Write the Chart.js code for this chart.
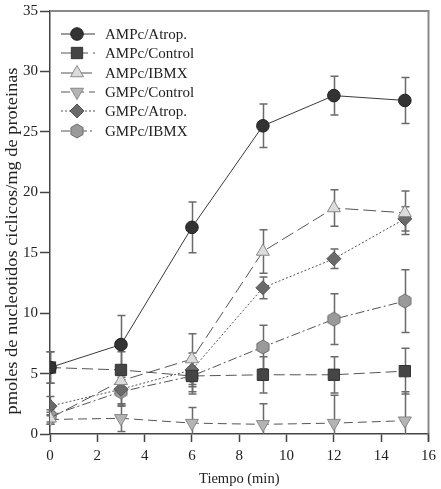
<!DOCTYPE html>
<html>
<head>
<meta charset="utf-8">
<script src="https://cdn.jsdelivr.net/npm/chart.js@4/dist/chart.umd.min.js"></script>
<style>
html,body{margin:0;padding:0;background:#fff;}
#wrap{width:441px;height:489px;position:relative;}
</style>
</head>
<body>
<div id="wrap"><canvas id="c" width="441" height="489"></canvas></div>
<script>
const times = [0, 3, 6, 9, 12, 15];
const xTicks = [0, 2, 4, 6, 8, 10, 12, 14, 16];
const yTicks = [0, 5, 10, 15, 20, 25, 30, 35];
const xTitle = 'Tiempo (min)';
const yTitle = 'pmoles de nucleotidos ciclicos/mg de proteinas';
const seriesNames = ['AMPc/Atrop.', 'AMPc/Control', 'AMPc/IBMX', 'GMPc/Control', 'GMPc/Atrop.', 'GMPc/IBMX'];
const ampcAtrop = [5.5, 7.4, 17.1, 25.5, 28.0, 27.6];
const ampcAtropErr = [1.3, 2.4, 2.1, 1.8, 1.6, 1.9];
const ampcControl = [5.5, 5.3, 4.8, 4.9, 4.9, 5.2];
const ampcControlErr = [1.3, 1.5, 1.5, 1.5, 1.5, 1.9];
const ampcIbmx = [1.3, 4.4, 6.2, 15.1, 18.7, 18.3];
const ampcIbmxErr = [0.5, 1.0, 2.1, 1.8, 1.5, 1.8];
const gmpcControl = [1.2, 1.3, 0.9, 0.8, 0.9, 1.1];
const gmpcControlErr = [0.4, 1.1, 1.3, 1.7, 2.3, 2.4];
const gmpcAtrop = [2.3, 3.7, 5.3, 12.1, 14.5, 17.8];
const gmpcAtropErr = [0.8, 1.2, 1.4, 0.9, 0.8, 1.0];
const gmpcIbmx = [1.5, 3.5, 4.8, 7.2, 9.5, 11.0];
const gmpcIbmxErr = [0.5, 1.2, 1.3, 1.8, 2.1, 2.6];

const SERIF = '"Liberation Serif", "Times New Roman", serif';

function hexagon(r, fill, stroke) {
  const c = document.createElement('canvas');
  const s = Math.ceil(r * 2 + 2);
  c.width = s; c.height = s;
  const g = c.getContext('2d');
  g.beginPath();
  for (let i = 0; i < 6; i++) {
    const a = Math.PI / 6 + i * Math.PI / 3;
    const px = s / 2 + r * Math.cos(a), py = s / 2 + r * Math.sin(a);
    if (i === 0) g.moveTo(px, py); else g.lineTo(px, py);
  }
  g.closePath();
  g.fillStyle = fill; g.fill();
  g.strokeStyle = stroke; g.lineWidth = 1; g.stroke();
  return c;
}
const hex = hexagon(7, '#9a9a9a', '#6e6e6e');

function pts(vals) { return times.map((t, i) => ({x: t, y: vals[i]})); }

const datasets = [
  {label: seriesNames[0], data: pts(ampcAtrop), err: ampcAtropErr, borderColor: '#3a3a3a', borderDash: [],
   pointStyle: 'circle', pointRadius: 6.3, pointBackgroundColor: '#333', pointBorderColor: '#222'},
  {label: seriesNames[1], data: pts(ampcControl), err: ampcControlErr, borderColor: '#555', borderDash: [11, 5],
   pointStyle: 'rect', pointRadius: 8, pointBackgroundColor: '#454545', pointBorderColor: '#333'},
  {label: seriesNames[2], data: pts(ampcIbmx), err: ampcIbmxErr, borderColor: '#555', borderDash: [13, 5],
   pointStyle: 'triangle', pointRadius: 7.5, pointBackgroundColor: '#dcdcdc', pointBorderColor: '#888'},
  {label: seriesNames[3], data: pts(gmpcControl), err: gmpcControlErr, borderColor: '#555', borderDash: [9, 5],
   pointStyle: 'triangle', pointRotation: 180, pointRadius: 7.5, pointBackgroundColor: '#b4b4b4', pointBorderColor: '#888'},
  {label: seriesNames[4], data: pts(gmpcAtrop), err: gmpcAtropErr, borderColor: '#555', borderDash: [2, 2],
   pointStyle: 'rectRot', pointRadius: 7, pointBackgroundColor: '#6a6a6a', pointBorderColor: '#555'},
  {label: seriesNames[5], data: pts(gmpcIbmx), err: gmpcIbmxErr, borderColor: '#555', borderDash: [9, 3, 2, 3],
   pointStyle: hex, pointRadius: 7, pointBackgroundColor: '#9a9a9a', pointBorderColor: '#6e6e6e'}
];
datasets.forEach(d => { d.borderWidth = 1; d.pointBorderWidth = 1; d.fill = false; d.tension = 0; d.showLine = true; });

const errorBars = {
  id: 'errorBars',
  beforeDatasetsDraw(chart) {
    const {ctx, scales: {x, y}} = chart;
    ctx.save();
    ctx.strokeStyle = '#6a6a6a';
    ctx.lineWidth = 1.5;
    chart.data.datasets.forEach(d => {
      d.data.forEach((p, i) => {
        const e = d.err[i];
        const px = Math.round(x.getPixelForValue(p.x)) + 0.5;
        const top = y.getPixelForValue(p.y + e);
        const bot = y.getPixelForValue(Math.max(0, p.y - e));
        ctx.beginPath();
        ctx.moveTo(px, top); ctx.lineTo(px, bot);
        ctx.moveTo(px - 4, top); ctx.lineTo(px + 4, top);
        if (p.y - e > 0) { ctx.moveTo(px - 4, bot); ctx.lineTo(px + 4, bot); }
        ctx.stroke();
      });
    });
    ctx.restore();
  }
};

const frame = {
  id: 'frame',
  afterDraw(chart) {
    const {ctx, chartArea: a} = chart;
    ctx.save();
    ctx.strokeStyle = '#8a8a8a';
    ctx.lineWidth = 2;
    ctx.beginPath();
    ctx.moveTo(a.left, a.top); ctx.lineTo(a.right, a.top); ctx.lineTo(a.right, a.bottom);
    ctx.stroke();
    ctx.strokeStyle = '#444';
    ctx.lineWidth = 1.5;
    ctx.beginPath();
    ctx.moveTo(a.right, a.bottom - 0.5); ctx.lineTo(a.right, a.bottom + 8);
    ctx.stroke();
    // y axis title (stretched along its length like the reference)
    ctx.save();
    ctx.font = '16px ' + SERIF;
    ctx.fillStyle = '#222';
    ctx.textAlign = 'center';
    ctx.textBaseline = 'middle';
    const w = ctx.measureText(yTitle).width;
    ctx.translate(13, 241);
    ctx.rotate(-Math.PI / 2);
    ctx.scale(347 / w, 1);
    ctx.fillText(yTitle, 0, 0);
    ctx.restore();
    // legend
    const rows = [34, 53, 73, 92, 111, 131];
    ctx.font = '15px ' + SERIF;
    ctx.textBaseline = 'middle';
    ctx.textAlign = 'left';
    chart.data.datasets.forEach((d, i) => {
      const yy = rows[i];
      ctx.strokeStyle = d.borderColor;
      ctx.lineWidth = 1;
      ctx.setLineDash(d.borderDash);
      ctx.beginPath(); ctx.moveTo(61, yy); ctx.lineTo(95, yy); ctx.stroke();
      ctx.setLineDash([]);
      ctx.fillStyle = d.pointBackgroundColor;
      ctx.strokeStyle = d.pointBorderColor;
      Chart.helpers.drawPoint(ctx, {pointStyle: d.pointStyle, rotation: d.pointRotation || 0, radius: d.pointRadius, borderWidth: 1}, 77, yy);
      ctx.fillStyle = '#222';
      ctx.fillText(d.label, 105, yy + 1);
    });
    ctx.restore();
  }
};

new Chart(document.getElementById('c'), {
  type: 'scatter',
  data: {datasets},
  plugins: [errorBars, frame],
  options: {
    responsive: false,
    animation: false,
    layout: {padding: {left: 0, top: 9, right: 10, bottom: 0}},
    plugins: {legend: {display: false}, tooltip: {enabled: false}},
    scales: {
      x: {
        type: 'linear', min: 0, max: 16,
        afterBuildTicks(s) { s.ticks = xTicks.map(v => ({value: v})); },
        afterFit(s) { s.height = 55; },
        grid: {drawOnChartArea: false, drawTicks: true, tickLength: 8, color: '#444', tickWidth: 1.5},
        border: {display: true, color: '#444', width: 1.5},
        ticks: {color: '#222', font: {family: SERIF, size: 15}, padding: 5, maxRotation: 0},
        title: {display: true, text: xTitle, color: '#222', font: {family: SERIF, size: 14.5}, padding: {top: 0, bottom: 1}}
      },
      y: {
        type: 'linear', min: 0, max: 35,
        afterBuildTicks(s) { s.ticks = yTicks.map(v => ({value: v})); },
        afterFit(s) { s.width = 50; },
        grid: {drawOnChartArea: false, drawTicks: true, tickLength: 10, color: '#444', tickWidth: 1.5},
        border: {display: true, color: '#444', width: 1.5},
        ticks: {color: '#222', font: {family: SERIF, size: 15}, padding: 2},
        title: {display: false}
      }
    }
  }
});
</script>
</body>
</html>
